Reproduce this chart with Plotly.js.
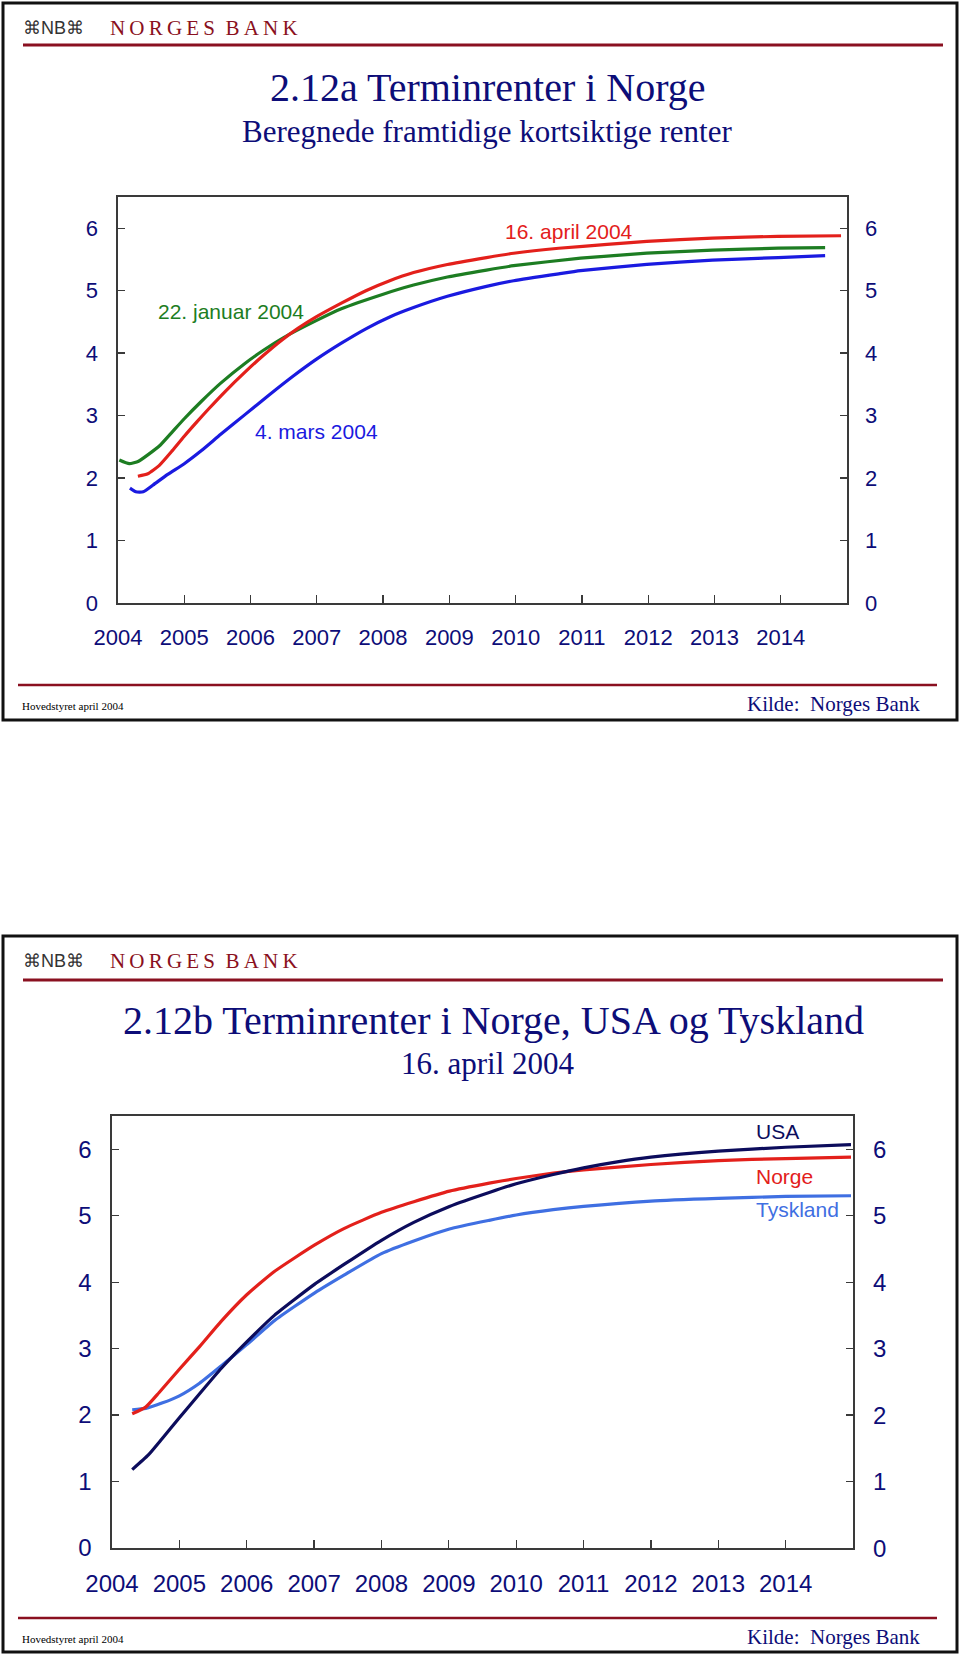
<!DOCTYPE html>
<html><head><meta charset="utf-8">
<script src="https://cdn.plot.ly/plotly-3.0.1.min.js"></script>
<style>html,body{margin:0;padding:0;background:#fff}#chart{width:960px;height:1660px}</style>
</head><body><div id="chart"></div>
<script>
// ---------- shared ticks ----------
const yearTicks = [2004, 2005, 2006, 2007, 2008, 2009, 2010, 2011, 2012, 2013, 2014];
const yearLabels = ['2004', '2005', '2006', '2007', '2008', '2009', '2010', '2011', '2012', '2013', '2014'];
const rateTicks = [0, 1, 2, 3, 4, 5, 6];
const rateLabels = ['0', '1', '2', '3', '4', '5', '6'];

// ---------- chart 2.12a: forward rates Norway at three dates ----------
const aprilLabel = '16. april 2004';
const aprilX = [2004.30, 2004.45, 2004.62, 2004.82, 2005.00, 2005.19, 2005.37, 2005.62, 2005.92, 2006.20, 2006.46, 2006.72, 2006.99, 2007.37, 2007.74, 2008.10, 2008.46, 2008.97, 2009.56, 2009.97, 2010.65, 2011.38, 2011.98, 2012.97, 2013.96, 2014.91];
const aprilY = [2.03, 2.07, 2.20, 2.44, 2.67, 2.90, 3.11, 3.39, 3.70, 3.97, 4.20, 4.40, 4.58, 4.80, 5.00, 5.16, 5.29, 5.42, 5.53, 5.60, 5.68, 5.74, 5.79, 5.84, 5.87, 5.88];

const januarLabel = '22. januar 2004';
const januarX = [2004.02, 2004.17, 2004.31, 2004.46, 2004.64, 2004.82, 2005.00, 2005.26, 2005.55, 2005.92, 2006.20, 2006.50, 2006.99, 2007.37, 2007.99, 2008.46, 2008.97, 2009.56, 2009.97, 2010.98, 2011.98, 2012.97, 2013.96, 2014.67];
const januarY = [2.29, 2.23, 2.27, 2.38, 2.53, 2.74, 2.95, 3.23, 3.52, 3.84, 4.05, 4.25, 4.52, 4.71, 4.94, 5.09, 5.22, 5.33, 5.40, 5.52, 5.60, 5.65, 5.68, 5.69];

const marsLabel = '4. mars 2004';
const marsX = [2004.18, 2004.27, 2004.38, 2004.53, 2004.75, 2005.00, 2005.26, 2005.55, 2005.92, 2006.28, 2006.64, 2006.99, 2007.37, 2007.74, 2008.10, 2008.46, 2008.97, 2009.56, 2009.97, 2010.65, 2010.98, 2011.98, 2012.97, 2013.96, 2014.67];
const marsY = [1.84, 1.78, 1.78, 1.89, 2.06, 2.23, 2.44, 2.70, 3.02, 3.33, 3.63, 3.90, 4.16, 4.39, 4.58, 4.73, 4.91, 5.07, 5.16, 5.27, 5.32, 5.42, 5.49, 5.53, 5.56];

// ---------- chart 2.12b: Norway, USA, Germany 16 April 2004 ----------
const norgeLabel = 'Norge';
const norgeX = [2004.30, 2004.50, 2004.70, 2005.00, 2005.30, 2005.62, 2006.00, 2006.41, 2007.01, 2007.45, 2008.00, 2008.48, 2009.01, 2009.60, 2010.00, 2010.55, 2011.00, 2012.00, 2013.00, 2014.00, 2014.97];
const norgeY = [2.02, 2.12, 2.34, 2.69, 3.03, 3.41, 3.81, 4.16, 4.56, 4.81, 5.05, 5.21, 5.37, 5.49, 5.56, 5.64, 5.69, 5.77, 5.83, 5.86, 5.88];

const usaLabel = 'USA';
const usaX = [2004.30, 2004.54, 2004.74, 2005.00, 2005.30, 2005.62, 2006.00, 2006.41, 2007.01, 2007.45, 2008.00, 2008.48, 2009.01, 2009.60, 2010.00, 2010.55, 2011.00, 2011.50, 2012.00, 2013.00, 2014.00, 2014.97];
const usaY = [1.18, 1.40, 1.64, 1.96, 2.32, 2.70, 3.10, 3.50, 3.97, 4.27, 4.63, 4.90, 5.14, 5.35, 5.48, 5.62, 5.72, 5.81, 5.88, 5.97, 6.03, 6.07];

const tysklandLabel = 'Tyskland';
const tysklandX = [2004.30, 2004.50, 2004.74, 2005.00, 2005.30, 2005.62, 2006.00, 2006.41, 2007.01, 2007.45, 2008.00, 2008.48, 2009.01, 2009.60, 2010.00, 2010.55, 2011.00, 2012.00, 2013.00, 2014.00, 2014.97];
const tysklandY = [2.08, 2.10, 2.18, 2.29, 2.48, 2.74, 3.06, 3.42, 3.84, 4.11, 4.43, 4.62, 4.80, 4.93, 5.01, 5.09, 5.14, 5.22, 5.26, 5.29, 5.30];

// ---------- texts ----------
const titleA = '2.12a Terminrenter i Norge';
const subtitleA = 'Beregnede framtidige kortsiktige renter';
const titleB = '2.12b Terminrenter i Norge, USA og Tyskland';
const subtitleB = '16. april 2004';
const footLeft = 'Hovedstyret april 2004';
const footRight = 'Kilde:\u00a0 Norges Bank';
const bankName = 'N\u2009O\u2009R\u2009G\u2009E\u2009S\u2002B\u2009A\u2009N\u2009K';
const logoText = '\u2318NB\u2318';

// ---------- layout helpers ----------
const W = 960, H = 1660;
const px = v => v / W;
const py = v => 1 - v / H;

const SANS = 'Liberation Sans, Arial, sans-serif';
const SERIF = 'Liberation Serif, Times New Roman, serif';
const NAVY = '#0d0d78';
const AXIS = '#3a3a3a';
const BANKRED = '#8a1020';

const C = {red: '#e3201b', green: '#1d7d22', blue: '#1a1ae0', navy: '#0c0c5c', light: '#3f6fe2'};

function line(x, y, color, xa, ya, name) {
  return {x: x, y: y, type: 'scatter', mode: 'lines', name: name, xaxis: xa, yaxis: ya,
    line: {color: color, width: 3.2, shape: 'spline', smoothing: 0.5}, hoverinfo: 'skip'};
}

const traces = [
  line(januarX, januarY, C.green, 'x', 'y', januarLabel),
  line(marsX, marsY, C.blue, 'x', 'y', marsLabel),
  line(aprilX, aprilY, C.red, 'x', 'y', aprilLabel),
  line(tysklandX, tysklandY, C.light, 'x2', 'y2', tysklandLabel),
  line(norgeX, norgeY, C.red, 'x2', 'y2', norgeLabel),
  line(usaX, usaY, C.navy, 'x2', 'y2', usaLabel)
];

function xAxis(domain, anchor, size) {
  return {domain: domain, anchor: anchor, range: [2004, 2015], tickmode: 'array',
    tickvals: yearTicks, ticktext: yearLabels, ticks: 'inside', ticklen: 8, tickwidth: 1.3,
    tickcolor: AXIS, showline: true, linecolor: AXIS, linewidth: 1.6, mirror: true,
    showgrid: false, zeroline: false, fixedrange: true,
    tickfont: {family: SANS, size: size, color: NAVY}, ticklabelstandoff: 14};
}
function yAxis(domain, anchor, size) {
  return {domain: domain, anchor: anchor, range: [0, 6.5], tickmode: 'array',
    tickvals: rateTicks, ticktext: rateLabels, ticks: 'inside', ticklen: 7, tickwidth: 1.3,
    tickcolor: AXIS, showline: true, linecolor: AXIS, linewidth: 1.6, mirror: 'ticks',
    showgrid: false, zeroline: false, fixedrange: true,
    tickfont: {family: SANS, size: size, color: NAVY}, ticklabelstandoff: 14};
}

function ann(text, x, y, size, color, family, xanchor, extra) {
  return Object.assign({text: text, x: x, y: y, xref: 'paper', yref: 'paper', showarrow: false,
    xanchor: xanchor || 'center', yanchor: 'middle',
    font: {family: family, size: size, color: color}}, extra || {});
}
function dann(text, x, y, xa, ya, color, xanchor) {
  return {text: text, x: x, y: y, xref: xa, yref: ya, showarrow: false, xanchor: xanchor || 'center',
    yanchor: 'middle', font: {family: SANS, size: 21, color: color}};
}

const slides = [{top: 3, bottom: 720, line: 45, head: 28, foot: 685, footText: 706},
                {top: 936, bottom: 1652, line: 980, head: 961, foot: 1618, footText: 1639}];
const shapes = [];
const annotations = [];
slides.forEach(s => {
  shapes.push({type: 'rect', xref: 'paper', yref: 'paper', x0: px(3), x1: px(957), y0: py(s.top), y1: py(s.bottom),
    line: {color: '#111', width: 3}, fillcolor: 'rgba(0,0,0,0)'});
  shapes.push({type: 'line', xref: 'paper', yref: 'paper', x0: px(23), x1: px(943), y0: py(s.line), y1: py(s.line),
    line: {color: BANKRED, width: 3}});
  shapes.push({type: 'line', xref: 'paper', yref: 'paper', x0: px(18), x1: px(937), y0: py(s.foot), y1: py(s.foot),
    line: {color: BANKRED, width: 2.5}});
  annotations.push(ann(logoText, px(21), py(s.head), 18, '#333', SANS, 'left'));
  annotations.push(ann(bankName, px(108), py(s.head), 21, BANKRED, SERIF, 'left'));
  annotations.push(ann(footLeft, px(20), py(s.footText), 11, '#000', SERIF, 'left'));
  annotations.push(ann(footRight, px(922), py(s.footText - 2), 21, NAVY, SERIF, 'right'));
});

annotations.push(ann(titleA, px(487.5), py(88), 40, NAVY, SERIF));
annotations.push(ann(subtitleA, px(487), py(131), 31, NAVY, SERIF));
annotations.push(ann(titleB, px(493), py(1020), 40, NAVY, SERIF));
annotations.push(ann(subtitleB, px(488), py(1063), 31, NAVY, SERIF));

annotations.push(dann(aprilLabel, 2010.81, 5.94, 'x', 'y', C.red));
annotations.push(dann(januarLabel, 2005.71, 4.66, 'x', 'y', C.green));
annotations.push(dann(marsLabel, 2007.0, 2.74, 'x', 'y', C.blue));
annotations.push(dann(usaLabel, 2013.53, 6.27, 'x2', 'y2', C.navy, 'left'));
annotations.push(dann(norgeLabel, 2013.53, 5.59, 'x2', 'y2', C.red, 'left'));
annotations.push(dann(tysklandLabel, 2013.53, 5.10, 'x2', 'y2', C.light, 'left'));

// right-hand value axis labels (mirror of the left axis)
[['x', 'y', 22, 24], ['x2', 'y2', 24, 26]].forEach(([xa, ya, size, shift]) => {
  rateTicks.forEach((v, i) => {
    annotations.push({text: rateLabels[i], x: 1, y: v, xref: xa + ' domain', yref: ya, xshift: shift,
      xanchor: 'center', yanchor: 'middle', showarrow: false,
      font: {family: SANS, size: size, color: NAVY}});
  });
});

const layout = {
  width: W, height: H, margin: {l: 0, r: 0, t: 0, b: 0}, paper_bgcolor: '#fff', plot_bgcolor: 'rgba(0,0,0,0)',
  showlegend: false,
  xaxis: xAxis([px(118), px(847)], 'y', 22),
  yaxis: yAxis([py(603), py(197)], 'x', 22),
  xaxis2: xAxis([px(112), px(853)], 'y2', 24),
  yaxis2: yAxis([py(1548), py(1116)], 'x2', 24),
  shapes: shapes,
  annotations: annotations
};

Plotly.newPlot('chart', traces, layout, {staticPlot: true, displayModeBar: false});
</script></body></html>
